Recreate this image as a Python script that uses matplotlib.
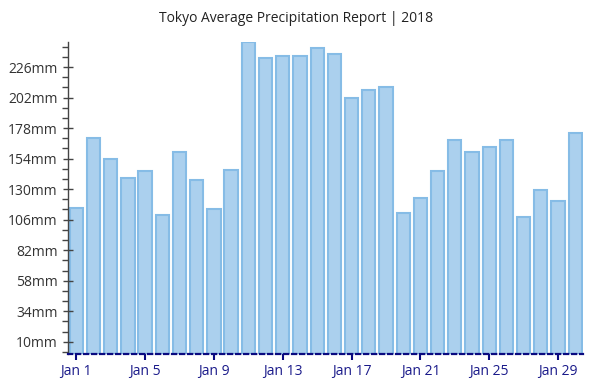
import matplotlib
matplotlib.use("Agg")
import matplotlib.pyplot as plt
from matplotlib.ticker import FixedLocator

plt.rcParams['font.family'] = ['Open Sans', 'DejaVu Sans']

days = list(range(1, 31))
precip = [115, 170, 154, 139, 144, 110, 159, 137, 114, 145,
          246, 233, 235, 235, 241, 236, 202, 208, 210, 111,
          123, 144, 169, 159, 163, 169, 108, 129, 121, 174]
x_tick_days = [1, 5, 9, 13, 17, 21, 25, 29]
x_tick_labels = ["Jan %d" % d for d in x_tick_days]
y_major = [10, 34, 58, 82, 106, 130, 154, 178, 202, 226]
y_labels = ["%dmm" % v for v in y_major]
y_minor = list(range(2, 246, 8))
title = "Tokyo Average Precipitation Report | 2018"

fig = plt.figure(figsize=(5.93, 3.85), dpi=100)
ax = fig.add_axes([68/593, 1 - 354.4/385, (583-68)/593, (354.4-41.7)/385])

ax.bar(days, precip, width=0.77, color='#abd0ee', edgecolor='#86bce6', linewidth=1.5)

ax.set_xlim(0.52, 30.45)
ax.set_ylim(0, 246)

ax.set_xticks(x_tick_days)
ax.set_xticklabels(x_tick_labels)
ax.yaxis.set_major_locator(FixedLocator(y_major))
ax.set_yticklabels(y_labels)
ax.yaxis.set_minor_locator(FixedLocator([v for v in y_minor if v not in y_major]))

for s in ['top', 'right']:
    ax.spines[s].set_visible(False)
ax.spines['left'].set_color('#444444')
ax.spines['left'].set_linewidth(1.0)
ax.spines['bottom'].set_color('#0a0a80')
ax.spines['bottom'].set_linewidth(1.6)
ax.spines['bottom'].set_linestyle((0, (1.9, 1.7)))
ax.spines['bottom'].set_zorder(5)

ax.tick_params(axis='y', which='major', direction='inout', length=7, width=1,
               color='#444444', labelsize=10, labelcolor='#333333', pad=4)
ax.tick_params(axis='y', which='minor', direction='out', length=4, width=1,
               color='#444444')
ax.tick_params(axis='x', which='major', direction='out', length=4, width=1.5,
               color='#0a0a80', labelsize=10, labelcolor='#1a1a8a', pad=3)

fig.text(0.5, 1 - 18/385, title, ha='center', va='center', fontsize=10, color='#222222')

fig.savefig("out.png", dpi=100)
